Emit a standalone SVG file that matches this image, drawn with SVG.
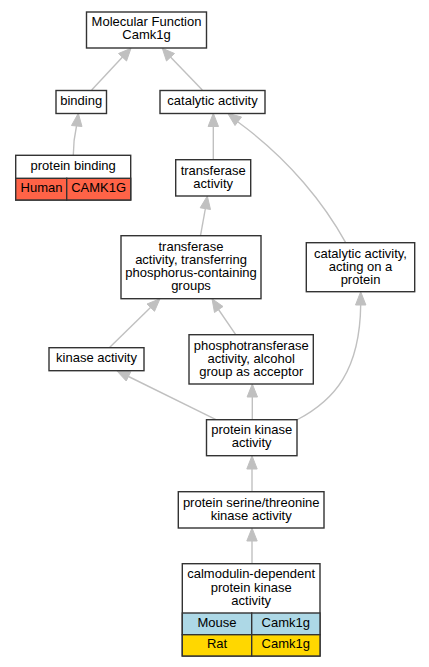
<svg xmlns="http://www.w3.org/2000/svg" width="429" height="667" viewBox="0 0 429 667">
<style>
text{font-family:"Liberation Sans",Arial,sans-serif;font-size:13px;fill:#000;text-anchor:middle}
.box{fill:#fff;stroke:#333;stroke-width:1.4}
.cell{stroke:#333;stroke-width:1.4}
.e{fill:none;stroke:#c0c0c0;stroke-width:1.4}
.ah{fill:#c0c0c0;stroke:#c0c0c0;stroke-width:1}
</style>
<rect width="429" height="667" fill="#fff"/>
<g id="connectors">
<path class="e" d="M91.7,90 L122.5,57"/><polygon class="ah" points="131,48.3 126.5,61 118.5,53.5"/>
<path class="e" d="M202.3,90 L170.5,57"/><polygon class="ah" points="162.3,48.3 174.5,53.5 166.5,61"/>
<path class="e" d="M73.3,155.3 C73.3,145 74.5,135 76.5,126"/><polygon class="ah" points="78.3,113.3 82,126.5 71.5,125.5"/>
<path class="e" d="M213.3,159.7 L213.3,126"/><polygon class="ah" points="213.3,113.3 218.5,126.5 208.1,126.5"/>
<path class="e" d="M345.7,242.7 C325,205 290,160 238,122"/><polygon class="ah" points="227.7,113.3 241.5,117 235,125.5"/>
<path class="e" d="M200.5,235.7 L205.4,208.5"/><polygon class="ah" points="207.3,196 210.5,209.5 200.2,207.8"/>
<path class="e" d="M109.3,347.7 L150.5,307.5"/><polygon class="ah" points="160,298.7 154.5,311.3 147,304"/>
<path class="e" d="M235.7,334.7 L218.5,309.5"/><polygon class="ah" points="212,298.7 223,306.5 214.5,312.5"/>
<path class="e" d="M216,419.7 L128.5,376.5"/><polygon class="ah" points="116.7,370.7 130.8,371.7 126.2,381"/>
<path class="e" d="M252.3,419.7 L252.3,397"/><polygon class="ah" points="252.3,384 257.5,397 247.1,397"/>
<path class="e" d="M296.7,420 C335,400 360,370 360.7,304.5"/><polygon class="ah" points="360.7,291.7 365.9,305 355.5,305"/>
<path class="e" d="M252,491.7 L252,469"/><polygon class="ah" points="252,455.7 257.2,469 246.8,469"/>
<path class="e" d="M252,563.7 L252,541"/><polygon class="ah" points="252,528 257.2,541 246.8,541"/>
</g>
<g id="mf"><rect class="box" x="86.5" y="12" width="120" height="36"/><text x="146.5" y="26">Molecular Function<tspan x="146.5" dy="13">Camk1g</tspan></text></g>
<g id="binding"><rect class="box" x="56" y="90.5" width="50.5" height="23"/><text x="81.2" y="105">binding</text></g>
<g id="catalytic"><rect class="box" x="160" y="90.5" width="105" height="23"/><text x="212.5" y="105">catalytic activity</text></g>
<g id="protein_binding"><rect class="box" x="15.7" y="155.3" width="115" height="44.7"/><rect class="cell" x="15.7" y="178.3" width="51" height="21.7" fill="#ff6347"/><rect class="cell" x="66.7" y="178.3" width="64" height="21.7" fill="#ff6347"/><text x="73.2" y="170.3">protein binding</text><text x="41.5" y="192.3">Human</text><text x="98.7" y="192.3">CAMK1G</text></g>
<g id="transferase"><rect class="box" x="175.7" y="159.7" width="75" height="36.3"/><text x="213.2" y="174.5">transferase<tspan x="213.2" dy="13">activity</tspan></text></g>
<g id="transferase_p"><rect class="box" x="121" y="235.7" width="140" height="63"/><text x="191" y="250.5">transferase<tspan x="191" dy="13.3">activity, transferring</tspan><tspan x="191" dy="13.3">phosphorus-containing</tspan><tspan x="191" dy="13.3">groups</tspan></text></g>
<g id="cat_protein"><rect class="box" x="306.3" y="242.7" width="108.4" height="49"/><text x="360.5" y="257.8">catalytic activity,<tspan x="360.5" dy="13.3">acting on a</tspan><tspan x="360.5" dy="13.3">protein</tspan></text></g>
<g id="kinase"><rect class="box" x="49" y="347.7" width="95" height="23"/><text x="96.5" y="362">kinase activity</text></g>
<g id="phospho"><rect class="box" x="189" y="334.7" width="124.3" height="49.3"/><text x="251.2" y="349.5">phosphotransferase<tspan x="251.2" dy="13.3">activity, alcohol</tspan><tspan x="251.2" dy="13.3">group as acceptor</tspan></text></g>
<g id="pk"><rect class="box" x="206.5" y="419.7" width="90.5" height="36"/><text x="251.7" y="433.8">protein kinase<tspan x="251.7" dy="13.2">activity</tspan></text></g>
<g id="serthr"><rect class="box" x="178.3" y="491.7" width="145.7" height="36.3"/><text x="251.2" y="506.8">protein serine/threonine<tspan x="251.2" dy="12.9">kinase activity</tspan></text></g>
<g id="camk"><rect class="box" x="182.3" y="563.7" width="137.7" height="92.3"/><rect class="cell" x="182.3" y="613" width="69.4" height="21.7" fill="#add8e6"/><rect class="cell" x="251.7" y="613" width="68.3" height="21.7" fill="#add8e6"/><rect class="cell" x="182.3" y="634.7" width="69.4" height="21.3" fill="#ffd700"/><rect class="cell" x="251.7" y="634.7" width="68.3" height="21.3" fill="#ffd700"/><text x="251.2" y="578.2">calmodulin-dependent<tspan x="251.2" dy="13.3">protein kinase</tspan><tspan x="251.2" dy="13.3">activity</tspan></text><text x="217" y="627.2">Mouse</text><text x="285.8" y="627.2">Camk1g</text><text x="217" y="647.8">Rat</text><text x="285.8" y="647.8">Camk1g</text></g>
</svg>
